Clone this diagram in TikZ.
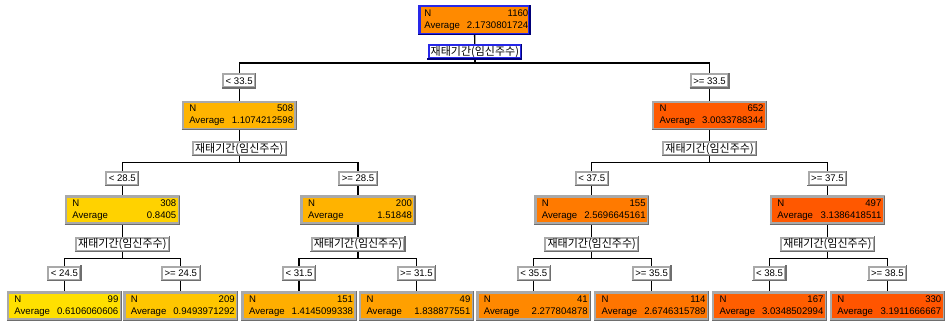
\documentclass[tikz,border=0pt]{standalone}
\usepackage{fontspec}
\setmainfont{Liberation Sans}
\newfontfamily\korfont{Noto Sans CJK KR}
\usetikzlibrary{backgrounds}
\definecolor{boxgray}{HTML}{A9A9A9}
\definecolor{edgedark}{HTML}{6E6E6E}
\definecolor{rootblue}{HTML}{2828E8}
\definecolor{rootnavy}{HTML}{000078}
\definecolor{cRoot}{HTML}{FF8A00}
\definecolor{cA}{HTML}{FFB400}
\definecolor{cB}{HTML}{FF5A00}
\definecolor{cAA}{HTML}{FFD200}
\definecolor{cAB}{HTML}{FFB300}
\definecolor{cBA}{HTML}{FF7A00}
\definecolor{cBB}{HTML}{FF5800}
\definecolor{cAAA}{HTML}{FFE000}
\definecolor{cAAB}{HTML}{FFC600}
\definecolor{cABA}{HTML}{FFAE00}
\definecolor{cABB}{HTML}{FFA000}
\definecolor{cBAA}{HTML}{FF8800}
\definecolor{cBAB}{HTML}{FF7500}
\definecolor{cBBA}{HTML}{FF5E00}
\definecolor{cBBB}{HTML}{FF5500}
\newcommand\stxt[2]{\hbox to 108pt{\hskip4pt N\hfil #1}\\\hbox to 108pt{\hskip4pt Average\hfil #2}}
\newcommand\bevel[2]{\draw[#2, line width=1.2pt] ([shift={(-1.2pt,-0.6pt)}]#1.south west) -- ([shift={(0.6pt,-0.6pt)}]#1.south east) -- ([shift={(0.6pt,1.2pt)}]#1.north east);}
\newcommand\kor{재태기간(임신주수)}
\begin{document}
\begin{tikzpicture}[x=1pt,y=-1pt,
  stat/.style={rectangle, minimum width=113pt, minimum height=27pt, inner sep=0pt, outer sep=0pt,
    draw=boxgray, line width=2.5pt, align=left, font=\fontsize{9.6}{11.5}\selectfont},
  lab/.style={rectangle, fill=white, draw=boxgray, line width=2pt, inner xsep=2.5pt, inner ysep=0pt,
    outer sep=0pt, minimum height=13pt, font=\fontsize{9.6}{10}\selectfont},
  klab/.style={lab, font=\korfont\fontsize{11}{11}\selectfont, inner xsep=2.2pt},
  conn/.style={draw=black, line width=1.3pt}]
% root
\node[stat, fill=cRoot, draw=rootblue, minimum width=110pt, minimum height=28pt] (R) at (475,20) {\stxt{1160}{2.1730801724}};
\bevel{R}{rootnavy}
\node[klab, draw=rootblue] (S0) at (475.5,52) {\kor};
\bevel{S0}{rootnavy}
% level 1
\node[lab] (T1) at (239.5,81) {< 33.5};
\node[lab] (T2) at (710.5,81) {>= 33.5};
\node[stat, fill=cA] (N1) at (239.5,115.5) {\stxt{508}{1.1074212598}};
\node[stat, fill=cB] (N2) at (710.5,115.5) {\stxt{652}{3.0033788344}};
\node[klab] (S1) at (239.5,149) {\kor};
\node[klab] (S2) at (710.5,149) {\kor};
% level 2
\node[lab] (T11) at (122.5,178.5) {< 28.5};
\node[lab] (T12) at (358.5,178.5) {>= 28.5};
\node[lab] (T21) at (592.5,178.5) {< 37.5};
\node[lab] (T22) at (828.5,178.5) {>= 37.5};
\node[stat, fill=cAA] (N11) at (122.5,210.5) {\stxt{308}{0.8405}};
\node[stat, fill=cAB] (N12) at (358.5,210.5) {\stxt{200}{1.51848}};
\node[stat, fill=cBA] (N21) at (592.5,210.5) {\stxt{155}{2.5696645161}};
\node[stat, fill=cBB] (N22) at (828.5,210.5) {\stxt{497}{3.1386418511}};
\node[klab] (S11) at (122.5,244.5) {\kor};
\node[klab] (S12) at (358.5,244.5) {\kor};
\node[klab] (S21) at (592.5,244.5) {\kor};
\node[klab] (S22) at (828.5,244.5) {\kor};
% level 3
\node[lab] (T111) at (64.5,273.5) {< 24.5};
\node[lab] (T112) at (181,273.5) {>= 24.5};
\node[lab] (T121) at (299.5,273.5) {< 31.5};
\node[lab] (T122) at (417,273.5) {>= 31.5};
\node[lab] (T211) at (534.5,273.5) {< 35.5};
\node[lab] (T212) at (652.5,273.5) {>= 35.5};
\node[lab] (T221) at (770.5,273.5) {< 38.5};
\node[lab] (T222) at (888.5,273.5) {>= 38.5};
\node[stat, fill=cAAA] (L111) at (64.5,306.5) {\stxt{99}{0.6106060606}};
\node[stat, fill=cAAB] (L112) at (181,306.5) {\stxt{209}{0.9493971292}};
\node[stat, fill=cABA] (L121) at (299.5,306.5) {\stxt{151}{1.4145099338}};
\node[stat, fill=cABB] (L122) at (417,306.5) {\stxt{49}{1.838877551}};
\node[stat, fill=cBAA] (L211) at (534.5,306.5) {\stxt{41}{2.277804878}};
\node[stat, fill=cBAB] (L212) at (652.5,306.5) {\stxt{114}{2.6746315789}};
\node[stat, fill=cBBA] (L221) at (770.5,306.5) {\stxt{167}{3.0348502994}};
\node[stat, fill=cBBB] (L222) at (888.5,306.5) {\stxt{330}{3.1911666667}};
\foreach \n in {N1,N2,N11,N12,N21,N22,L111,L112,L121,L122,L211,L212,L221,L222,
  T1,T2,T11,T12,T21,T22,T111,T112,T121,T122,T211,T212,T221,T222,S1,S2,S11,S12,S21,S22}{\bevel{\n}{edgedark}}
% junction points
\coordinate (J0) at (475.5,63);
\coordinate (J1) at (239.5,163);
\coordinate (J2) at (710.5,163);
\coordinate (J11) at (122.5,259);
\coordinate (J12) at (358.5,259);
\coordinate (J21) at (592.5,259);
\coordinate (J22) at (828.5,259);
\begin{scope}[on background layer]
\fill[white] (0,0) rectangle (945,320);
\draw[conn] (R) -- (S0);
\draw[conn] (S0) -- (J0);
\draw[conn] (T1.north) |- (J0) -| (T2.north);
\draw[conn] (T1) -- (N1) -- (S1) -- (J1);
\draw[conn] (T2) -- (N2) -- (S2) -- (J2);
\draw[conn] (T11.north) |- (J1) -| (T12.north);
\draw[conn] (T21.north) |- (J2) -| (T22.north);
\draw[conn] (T11) -- (N11) -- (S11) -- (J11);
\draw[conn] (T12) -- (N12) -- (S12) -- (J12);
\draw[conn] (T21) -- (N21) -- (S21) -- (J21);
\draw[conn] (T22) -- (N22) -- (S22) -- (J22);
\draw[conn] (T111.north) |- (J11) -| (T112.north);
\draw[conn] (T121.north) |- (J12) -| (T122.north);
\draw[conn] (T211.north) |- (J21) -| (T212.north);
\draw[conn] (T221.north) |- (J22) -| (T222.north);
\draw[conn] (T111) -- (L111);
\draw[conn] (T112) -- (L112);
\draw[conn] (T121) -- (L121);
\draw[conn] (T122) -- (L122);
\draw[conn] (T211) -- (L211);
\draw[conn] (T212) -- (L212);
\draw[conn] (T221) -- (L221);
\draw[conn] (T222) -- (L222);
\end{scope}
\useasboundingbox (0,0) rectangle (945,320);
\end{tikzpicture}
\end{document}
